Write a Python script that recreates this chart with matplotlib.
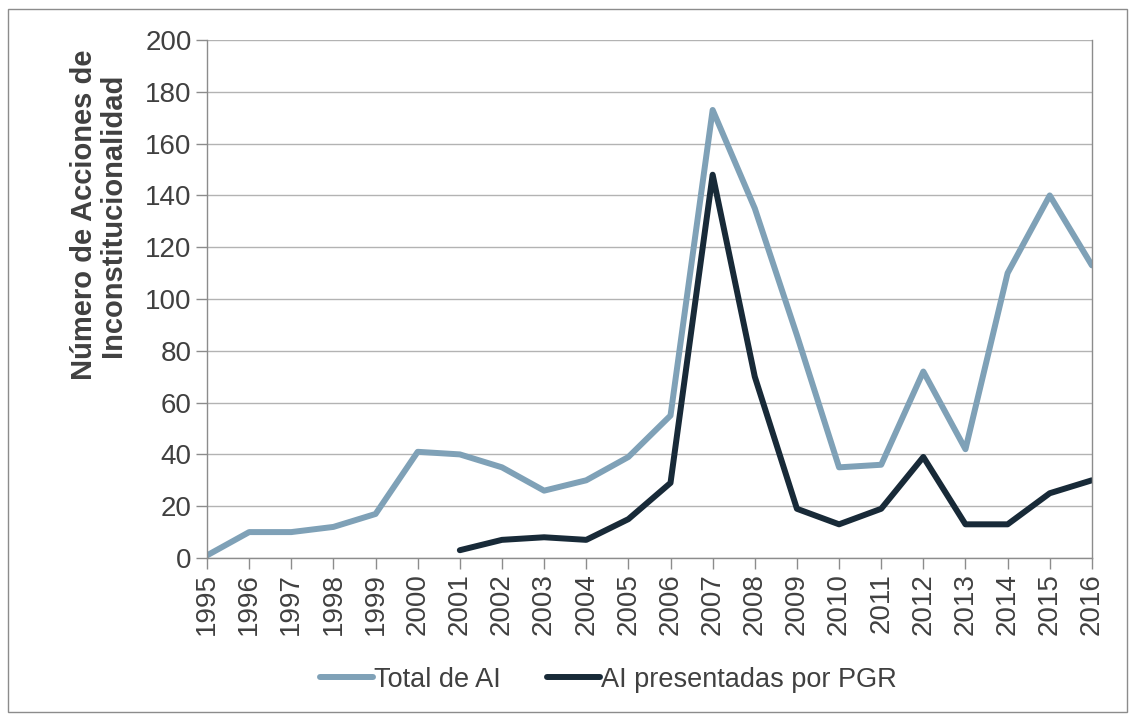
import numpy as np
import matplotlib.pyplot as plt
from matplotlib.patches import Rectangle

plt.rcParams['font.family'] = ['Liberation Sans', 'DejaVu Sans']

# datos
years = list(range(1995, 2017))
total_ai = [1, 10, 10, 12, 17, 41, 40, 35, 26, 30, 39, 55, 173, 135, 86, 35, 36, 72, 42, 110, 140, 113]
pgr_years = list(range(2001, 2017))
pgr_ai = [3, 7, 8, 7, 15, 29, 148, 70, 19, 13, 19, 39, 13, 13, 25, 30]

c_total = '#7fa1b7'
c_pgr = '#182a38'
c_text = '#404040'
c_grid = '#b3b3b3'

fig = plt.figure(figsize=(11.35, 7.15), dpi=100)
ax = fig.add_axes([0.1824, 0.2196, 0.962 - 0.1824, 0.944 - 0.2196])

ax.plot(years, total_ai, color=c_total, lw=4.3, solid_capstyle='round',
        solid_joinstyle='round', label='Total de AI')
ax.plot(pgr_years, pgr_ai, color=c_pgr, lw=4.3, solid_capstyle='round',
        solid_joinstyle='round', label='AI presentadas por PGR')

ax.set_xlim(1995, 2016)
ax.set_ylim(0, 200)
ax.set_yticks(np.arange(0, 201, 20))
ax.set_xticks(years)
ax.set_xticklabels([str(y) for y in years], rotation=90)
ax.tick_params(axis='both', labelsize=20, colors=c_text, length=8, width=1,
               color='#8c8c8c', pad=3)
ax.grid(axis='y', color=c_grid, lw=1)
ax.set_axisbelow(True)
ax.spines['top'].set_visible(False)
for s in ['left', 'right', 'bottom']:
    ax.spines[s].set_color('#8c8c8c')
    ax.spines[s].set_linewidth(1)

# la etiqueta del eje Y no va centrada, queda hacia arriba
ax.set_ylabel('Número de Acciones de\nInconstitucionalidad', fontsize=21,
              fontweight='bold', color=c_text, linespacing=1.05)
ax.yaxis.set_label_coords(-0.0906, 0.662)

# leyenda algo corrida a la izquierda, como en el original
leg = ax.legend(loc='center', bbox_to_anchor=(0.4537, -0.235), ncol=2, frameon=False,
                fontsize=19.5, handlelength=1.95, handletextpad=0.05, columnspacing=1.7)
for t in leg.get_texts():
    t.set_color(c_text)

fig.patches.append(Rectangle((8 / 1135, 1 - 712 / 715), 1 - 16 / 1135, (712 - 9) / 715,
                             transform=fig.transFigure, fill=False,
                             edgecolor='#8c8c8c', lw=1))

fig.savefig('out.png', dpi=100)
